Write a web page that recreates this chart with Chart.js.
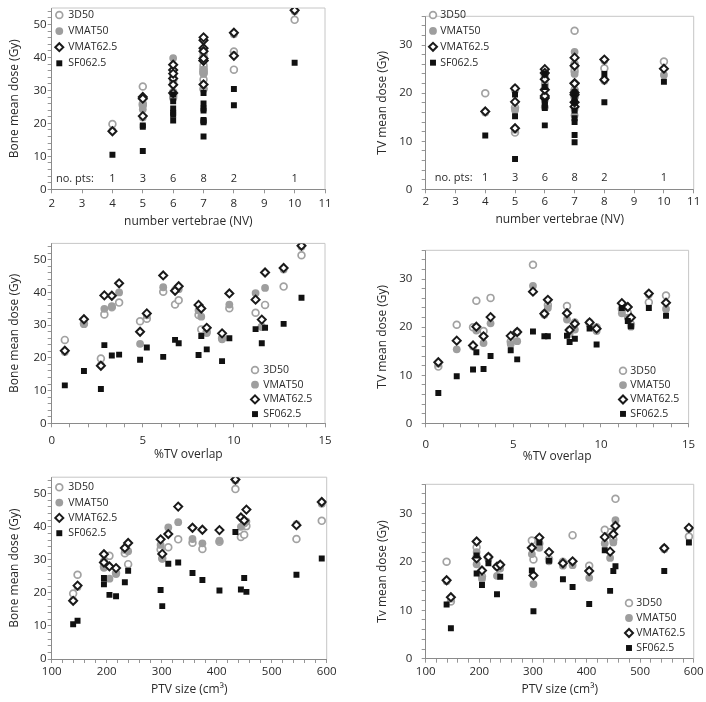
<!DOCTYPE html>
<html><head><meta charset="utf-8">
<script src="https://cdn.jsdelivr.net/npm/chart.js@4/dist/chart.umd.min.js"></script>
<style>
html,body{margin:0;padding:0;background:#fff;}
#wrap{position:relative;width:706px;height:702px;background:#fff;}
canvas{position:absolute;}
</style></head><body>
<div id="wrap">
<canvas id="c1" width="353" height="234" style="left:0px;top:0px"></canvas>
<canvas id="c2" width="353" height="234" style="left:353px;top:0px"></canvas>
<canvas id="c3" width="353" height="234" style="left:0px;top:234px"></canvas>
<canvas id="c4" width="353" height="234" style="left:353px;top:234px"></canvas>
<canvas id="c5" width="353" height="234" style="left:0px;top:468px"></canvas>
<canvas id="c6" width="353" height="234" style="left:353px;top:468px"></canvas>
</div>
<script>
// ---------- data (one entry per patient, 21 patients) ----------
const seriesNames = ['3D50', 'VMAT50', 'VMAT62.5', 'SF062.5'];
const nVertebrae = [5,7,4,7,7,7,5,6,7,8,7,6,6,6,5,7,6,6,7,8,10];
const tvOverlap  = [0.72,1.77,2.70,2.89,3.30,3.70,4.85,5.22,6.12,6.77,6.97,8.06,8.21,8.51,9.35,9.75,11.19,11.53,11.71,12.73,13.71];
const ptvSize    = [147,301,139,374,405,444,205,233,454,545,450,298,239,195,217,356,312,195,330,591,434];

const bone3D50    = [25.5,30.5,19.8,33.3,35.5,36.9,31.2,32.0,40.2,36.3,37.6,33.1,28.7,28.0,26.0,35.2,33.8,29.5,36.2,41.8,51.4];
const boneVMAT50  = [21.8,30.3,17.8,35.0,35.8,40.0,24.3,33.0,41.6,40.8,41.0,34.5,32.6,27.6,25.7,36.3,39.8,29.5,41.4,47.0,54.0];
const boneVMAT625 = [22.2,31.8,17.6,39.1,39.0,42.8,28.0,33.6,45.2,40.5,41.9,36.2,35.1,29.2,27.5,39.7,37.8,31.7,46.1,47.5,54.3];
const boneSF625   = [11.6,16.0,10.5,23.9,20.7,21.0,19.4,23.2,20.3,25.5,24.5,20.9,26.7,22.6,19.0,26.0,28.8,24.5,29.2,30.4,38.4];

const tv3D50    = [11.8,20.5,20.0,25.5,19.2,26.1,17.0,19.0,33.0,22.8,24.6,24.4,19.4,21.0,21.0,20.0,23.8,23.0,20.6,25.2,26.6];
const tvVMAT50  = [12.4,15.4,16.0,19.3,16.7,20.8,16.5,17.1,28.6,22.6,24.0,21.6,18.6,19.5,20.6,19.2,22.9,22.0,20.1,26.8,23.8];
const tvVMAT625 = [12.7,17.2,16.2,20.1,18.1,22.1,18.2,19.0,27.4,22.8,25.7,22.9,19.4,20.7,21.0,19.7,25.0,24.2,22.0,27.0,25.1];
const tvSF625   = [6.3,9.8,11.2,14.8,11.3,14.0,15.2,13.3,19.1,18.1,18.1,18.2,16.9,17.6,19.7,16.4,24.0,21.3,20.2,24.0,22.4];

const nvGroups = [4,5,6,7,8,10];
const nvGroupCounts = [1,3,6,8,2,1];

// ---------- styles ----------
const FONT = "'Open Sans', 'DejaVu Sans', sans-serif";
const TEXT = '#2a2a2a';
Chart.defaults.font.family = FONT;
Chart.defaults.color = TEXT;

const seriesStyles = [
  {pointStyle:'circle',  pointRadius:3.4, pointBorderWidth:1.7, pointBorderColor:'#a2a2a2', pointBackgroundColor:'#ffffff', order:3},
  {pointStyle:'circle',  pointRadius:3.9, pointBorderWidth:0,   pointBorderColor:'#9e9e9e', pointBackgroundColor:'#9e9e9e', order:2},
  {pointStyle:'rectRot', pointRadius:4.0, pointBorderWidth:2,   pointBorderColor:'#1a1a1a', pointBackgroundColor:'#ffffff', order:1},
  {pointStyle:'rect',    pointRadius:4.2, pointBorderWidth:0,   pointBorderColor:'#111111', pointBackgroundColor:'#111111', order:0}
];

function drawMarker(ctx, st, x, y) {
  const r = st.pointRadius;
  ctx.save();
  ctx.fillStyle = st.pointBackgroundColor;
  ctx.strokeStyle = st.pointBorderColor;
  ctx.lineWidth = st.pointBorderWidth;
  ctx.beginPath();
  if (st.pointStyle === 'circle') {
    ctx.arc(x, y, r, 0, Math.PI * 2);
  } else if (st.pointStyle === 'rectRot') {
    ctx.moveTo(x - r, y); ctx.lineTo(x, y - r); ctx.lineTo(x + r, y); ctx.lineTo(x, y + r); ctx.closePath();
  } else {
    const s = r * Math.SQRT1_2;
    ctx.rect(x - s, y - s, 2 * s, 2 * s);
  }
  ctx.fill();
  if (st.pointBorderWidth > 0) ctx.stroke();
  ctx.restore();
}

const decorPlugin = {
  id: 'decor',
  beforeDatasetsDraw(chart) {
    const {ctx, chartArea: a} = chart;
    ctx.save();
    ctx.strokeStyle = '#c6c6c6';
    ctx.lineWidth = 1;
    ctx.beginPath();
    ctx.moveTo(a.left, a.top);
    ctx.lineTo(a.right, a.top);
    ctx.lineTo(a.right, a.bottom);
    ctx.stroke();
    ctx.restore();
  },
  afterDatasetsDraw(chart, args, opts) {
    const ctx = chart.ctx;
    const lg = opts.legend;
    if (lg) {
      seriesNames.forEach((name, k) => {
        const y = lg.y0 + k * lg.dy;
        drawMarker(ctx, seriesStyles[k], lg.mx, y);
        ctx.save();
        ctx.font = '10.5px ' + FONT;
        ctx.fillStyle = TEXT;
        ctx.textAlign = 'left';
        ctx.textBaseline = 'middle';
        ctx.fillText(name, lg.tx, y);
        ctx.restore();
      });
    }
    const pts = opts.pts;
    if (pts) {
      ctx.save();
      ctx.font = '11px ' + FONT;
      ctx.fillStyle = TEXT;
      ctx.textBaseline = 'middle';
      ctx.textAlign = 'left';
      ctx.fillText('no. pts:', pts.x, pts.y);
      ctx.textAlign = 'center';
      const xs = chart.scales.x;
      nvGroups.forEach((g, i) => {
        ctx.fillText(String(nvGroupCounts[i]), xs.getPixelForValue(g), pts.y);
      });
      ctx.restore();
    }
  }
};

const panels = [
  {id:'c1', xs:nVertebrae, ys:[bone3D50,boneVMAT50,boneVMAT625,boneSF625],
   xMin:2, xMax:11, xStep:1, xEvery:1, yMax:55, xTitle:'number vertebrae (NV)', yTitle:'Bone mean dose (Gy)',
   geo:{left:51.7, right:325, top:8, bottom:189.3}, yTickPad:1, yTitlePad:7.8, xTickPad:3.8, xTitlePad:5.1,
   legend:{mx:59.3, y0:15, dy:16.1, tx:68.3}, pts:{x:56, y:179}},
  {id:'c2', xs:nVertebrae, ys:[tv3D50,tvVMAT50,tvVMAT625,tvSF625],
   xMin:2, xMax:11, xStep:1, xEvery:1, yMax:36, xTitle:'number vertebrae (NV)', yTitle:'TV mean dose (Gy)',
   geo:{left:72.7, right:340.7, top:8, bottom:189.3}, yTickPad:9.4, yTitlePad:22.8, xTickPad:1.5, xTitlePad:6.8,
   legend:{mx:80, y0:15, dy:15.9, tx:87.3}, pts:{x:81.7, y:177.7}},
  {id:'c3', xs:tvOverlap, ys:[bone3D50,boneVMAT50,boneVMAT625,boneSF625],
   xMin:0, xMax:15, xStep:1, xEvery:5, yMax:55, xTitle:'%TV overlap', yTitle:'Bone mean dose (Gy)',
   geo:{left:51.7, right:325, top:9.4, bottom:189.3}, yTickPad:1, yTitlePad:7.8, xTickPad:6.5, xTitlePad:6.1,
   legend:{mx:255, y0:136, dy:14.7, tx:263.3}},
  {id:'c4', xs:tvOverlap, ys:[tv3D50,tvVMAT50,tvVMAT625,tvSF625],
   xMin:0, xMax:15, xStep:1, xEvery:5, yMax:36, xTitle:'%TV overlap', yTitle:'TV mean dose (Gy)',
   geo:{left:72.7, right:341.7, top:8.9, bottom:189.3}, yTickPad:9.4, yTitlePad:22.8, xTickPad:10.8, xTitlePad:4.1,
   legend:{mx:270, y0:136.7, dy:14.4, tx:277.3}},
  {id:'c5', xs:ptvSize, ys:[bone3D50,boneVMAT50,boneVMAT625,boneSF625],
   xMin:100, xMax:600, xStep:20, xEvery:100, yMax:55, xTitle:'PTV size (cm\u00B3)', yTitle:'Bone mean dose (Gy)',
   geo:{left:51.7, right:326.7, top:9.2, bottom:191}, yTickPad:1, yTitlePad:7.8, xTickPad:2.1, xTitlePad:5.1,
   legend:{mx:59.3, y0:19.3, dy:15.3, tx:68.3}},
  {id:'c6', xs:ptvSize, ys:[tv3D50,tvVMAT50,tvVMAT625,tvSF625],
   xMin:100, xMax:600, xStep:20, xEvery:100, yMax:36, xTitle:'PTV size (cm\u00B3)', yTitle:'Tv mean dose (Gy)',
   geo:{left:72.7, right:341.7, top:9.9, bottom:190.7}, yTickPad:9.4, yTitlePad:22.8, xTickPad:2.4, xTitlePad:5.1,
   legend:{mx:276, y0:135, dy:15, tx:283.3}}
];

const W = 353, H = 234;
const AXIS = '#8a8a8a', TICK = '#969696';

panels.forEach(p => {
  const datasets = p.ys.map((ys, k) => Object.assign({
    label: seriesNames[k],
    data: p.xs.map((x, i) => ({x: x, y: ys[i]})),
    showLine: false,
    pointHoverRadius: seriesStyles[k].pointRadius
  }, seriesStyles[k]));

  new Chart(document.getElementById(p.id), {
    type: 'scatter',
    data: {datasets},
    plugins: [decorPlugin],
    options: {
      responsive: false,
      animation: false,
      devicePixelRatio: 1,
      events: [],
      layout: {padding: {left: 0, top: p.geo.top, right: W - p.geo.right, bottom: 0}},
      plugins: {
        legend: {display: false},
        tooltip: {enabled: false},
        decor: {legend: p.legend, pts: p.pts || null}
      },
      scales: {
        x: {
          type: 'linear', position: 'bottom', min: p.xMin, max: p.xMax,
          ticks: {stepSize: p.xStep, autoSkip: false, includeBounds: false, maxRotation: 0,
                  padding: p.xTickPad, color: TEXT, font: {size: 11.5},
                  callback: v => (Math.round(v) % p.xEvery === 0 ? String(v) : '')},
          grid: {display: true, drawOnChartArea: false, drawTicks: true, tickLength: 4, color: TICK, lineWidth: 1},
          border: {display: true, color: AXIS, width: 1},
          title: {display: true, text: p.xTitle, color: TEXT, font: {size: 12}, padding: {top: 0, bottom: p.xTitlePad}},
          afterFit: s => { s.height = H - p.geo.bottom; }
        },
        y: {
          type: 'linear', position: 'left', min: 0, max: p.yMax,
          ticks: {stepSize: 2, autoSkip: false, includeBounds: false,
                  padding: p.yTickPad, color: TEXT, font: {size: 11.5},
                  callback: v => (Math.round(v) % 10 === 0 ? String(v) : '')},
          grid: {display: true, drawOnChartArea: false, drawTicks: true, tickLength: 4, color: TICK, lineWidth: 1},
          border: {display: true, color: AXIS, width: 1},
          title: {display: true, text: p.yTitle, color: TEXT, font: {size: 12}, padding: {top: p.yTitlePad, bottom: 0}},
          afterFit: s => { s.width = p.geo.left; }
        }
      }
    }
  });
});
</script>
</body></html>
